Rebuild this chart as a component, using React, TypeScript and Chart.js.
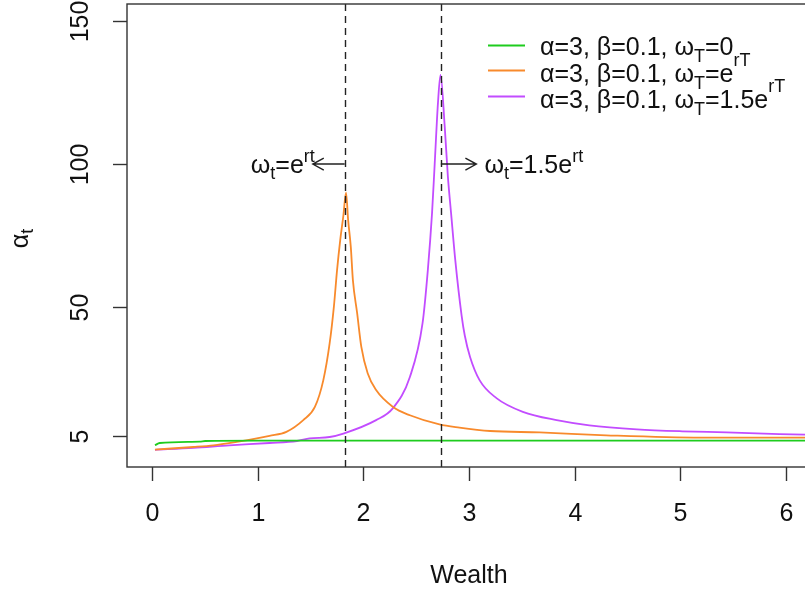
import React, { useEffect, useRef } from 'react';
import { Chart, registerables } from 'chart.js';

Chart.register(...registerables);

// ---- data ----
const greenX = [0.025, 0.07, 0.45, 0.5, 1.0, 2.0, 3.0, 4.0, 5.0, 6.0, 6.3];
const greenY = [1.6, 2.4, 2.9, 3.1, 3.2, 3.2, 3.2, 3.2, 3.2, 3.2, 3.2];

const orangeX = [0.025, 0.39, 0.58, 0.8, 0.99, 1.11, 1.27, 1.43, 1.54, 1.62, 1.68, 1.72, 1.75, 1.78, 1.81, 1.835, 1.855, 1.88, 1.9, 1.94, 1.98, 2.04, 2.12, 2.28, 2.44, 2.72, 2.91, 3.2, 3.67, 4.3, 5.2, 6.3];
const orangeY = [0.1, 1.0, 1.6, 2.8, 4.0, 4.9, 6.3, 10.4, 15.0, 24.4, 37.3, 50.1, 62.9, 73.4, 82.0, 90.0, 80.4, 71.1, 59.4, 47.9, 36.0, 26.8, 20.9, 15.0, 12.1, 8.9, 7.8, 6.6, 6.1, 5.1, 4.3, 4.3];

const purpleX = [0.025, 0.39, 0.73, 1.11, 1.37, 1.49, 1.68, 1.81, 2.12, 2.28, 2.44, 2.56, 2.61, 2.65, 2.675, 2.706, 2.73, 2.77, 2.8, 2.83, 2.87, 2.93, 2.96, 3.01, 3.1, 3.26, 3.51, 3.83, 4.14, 4.59, 5.02, 5.44, 5.94, 6.3];
const purpleY = [0.0, 0.7, 1.6, 2.4, 3.1, 4.0, 4.5, 5.7, 10.4, 14.6, 25.5, 44.3, 62.9, 82.9, 100.0, 121.4, 131.2, 113.1, 95.6, 82.9, 66.4, 47.0, 40.0, 32.5, 24.4, 18.1, 13.3, 10.4, 8.6, 7.2, 6.5, 6.1, 5.5, 5.3];

const xTicks = [0, 1, 2, 3, 4, 5, 6];
const yTicks = [5, 50, 100, 150];
const xRange = [-0.24, 6.24];
const yRange = [-6, 156];

const critLeft = 1.8221; // e^{rt}
const critRight = 2.7332; // 1.5 e^{rt}
const arrowLevel = 100;
const arrowLeftEnd = 1.52;
const arrowRightEnd = 3.07;

const seriesColors = ['#1ecc1e', '#f88a2c', '#c24cff'];

const FONT = '"Liberation Sans", Arial, sans-serif';
const FS = 25;

type Part = { t: string; k?: 'sub' | 'sup'; dy?: number };

function partFont(p: Part) {
  const s = p.k ? Math.round(FS * 0.7) : FS;
  return `${s}px ${FONT}`;
}

function richWidth(ctx: CanvasRenderingContext2D, parts: Part[]) {
  let w = 0;
  for (const p of parts) {
    ctx.font = partFont(p);
    w += ctx.measureText(p.t).width;
  }
  return w;
}

function drawRich(ctx: CanvasRenderingContext2D, parts: Part[], x: number, base: number, align: 'left' | 'right' | 'center') {
  const w = richWidth(ctx, parts);
  let cx = align === 'left' ? x : align === 'right' ? x - w : x - w / 2;
  ctx.textAlign = 'left';
  ctx.textBaseline = 'alphabetic';
  for (const p of parts) {
    ctx.font = partFont(p);
    let dy = 0;
    if (p.k === 'sub') dy = p.dy ?? 7;
    if (p.k === 'sup') dy = p.dy ?? -12;
    ctx.fillText(p.t, cx, base + dy);
    cx += ctx.measureText(p.t).width;
  }
}

function arrow(ctx: CanvasRenderingContext2D, x0: number, y0: number, x1: number, y1: number) {
  ctx.beginPath();
  ctx.moveTo(x0, y0);
  ctx.lineTo(x1, y1);
  const dir = Math.sign(x1 - x0);
  ctx.moveTo(x1 - dir * 11, y1 - 6);
  ctx.lineTo(x1, y1);
  ctx.lineTo(x1 - dir * 11, y1 + 6);
  ctx.stroke();
}

const decorPlugin = {
  id: 'decor',
  afterDatasetsDraw(chart: any) {
    const ctx: CanvasRenderingContext2D = chart.ctx;
    const { left, right, top, bottom } = chart.chartArea;
    const xs = chart.scales.x;
    const ys = chart.scales.y;
    ctx.save();
    ctx.fillStyle = '#111';
    ctx.strokeStyle = '#333';
    ctx.lineWidth = 1.4;

    // dashed critical lines
    ctx.save();
    ctx.setLineDash([7, 5]);
    ctx.strokeStyle = '#222';
    for (const v of [critLeft, critRight]) {
      const px = Math.round(xs.getPixelForValue(v)) + 0.5;
      ctx.beginPath();
      ctx.moveTo(px, top);
      ctx.lineTo(px, bottom);
      ctx.stroke();
    }
    ctx.restore();

    // box
    ctx.strokeRect(left, top, right - left, bottom - top);

    // x ticks + labels
    ctx.font = `${FS}px ${FONT}`;
    ctx.textAlign = 'center';
    ctx.textBaseline = 'middle';
    for (const v of xTicks) {
      const px = Math.round(xs.getPixelForValue(v)) + 0.5;
      ctx.beginPath();
      ctx.moveTo(px, bottom);
      ctx.lineTo(px, bottom + 14);
      ctx.stroke();
      ctx.fillText(String(v), px, 514);
    }
    // y ticks + labels (rotated)
    for (const v of yTicks) {
      const py = Math.round(ys.getPixelForValue(v)) + 0.5;
      ctx.beginPath();
      ctx.moveTo(left, py);
      ctx.lineTo(left - 14, py);
      ctx.stroke();
      ctx.save();
      ctx.translate(81, py);
      ctx.rotate(-Math.PI / 2);
      ctx.textAlign = 'center';
      ctx.textBaseline = 'middle';
      ctx.font = `${FS}px ${FONT}`;
      ctx.fillText(String(v), 0, 0);
      ctx.restore();
    }

    // axis titles
    ctx.font = `${FS}px ${FONT}`;
    ctx.textAlign = 'center';
    ctx.textBaseline = 'middle';
    ctx.fillText('Wealth', (left + right) / 2, 576);
    ctx.save();
    ctx.translate(28, (top + bottom) / 2 + 3);
    ctx.rotate(-Math.PI / 2);
    drawRich(ctx, [{ t: 'α' }, { t: 't', k: 'sub', dy: 5 }], 0, 0, 'center');
    ctx.restore();

    // arrows + annotations
    ctx.strokeStyle = '#222';
    const ay = ys.getPixelForValue(arrowLevel);
    arrow(ctx, xs.getPixelForValue(critLeft), ay, xs.getPixelForValue(arrowLeftEnd), ay);
    arrow(ctx, xs.getPixelForValue(critRight), ay, xs.getPixelForValue(arrowRightEnd), ay);
    drawRich(ctx, [{ t: 'ω' }, { t: 't', k: 'sub', dy: 6 }, { t: '=e' }, { t: 'rt', k: 'sup', dy: -11 }], xs.getPixelForValue(arrowLeftEnd) + 2, ay + 9, 'right');
    drawRich(ctx, [{ t: 'ω' }, { t: 't', k: 'sub', dy: 6 }, { t: '=1.5e' }, { t: 'rt', k: 'sup', dy: -11 }], xs.getPixelForValue(arrowRightEnd) + 8, ay + 9, 'left');

    // legend
    const legendRows: Part[][] = [
      [{ t: 'α=3, β=0.1, ω' }, { t: 'T', k: 'sub' }, { t: '=0' }],
      [{ t: 'α=3, β=0.1, ω' }, { t: 'T', k: 'sub' }, { t: '=e' }, { t: 'rT', k: 'sup', dy: -16 }],
      [{ t: 'α=3, β=0.1, ω' }, { t: 'T', k: 'sub' }, { t: '=1.5e' }, { t: 'rT', k: 'sup', dy: -16 }],
    ];
    const lineYs = [45, 70, 96];
    const baseYs = [55, 82, 108];
    for (let i = 0; i < 3; i++) {
      ctx.strokeStyle = seriesColors[i];
      ctx.lineWidth = 1.8;
      ctx.beginPath();
      ctx.moveTo(488, lineYs[i] + 0.5);
      ctx.lineTo(525, lineYs[i] + 0.5);
      ctx.stroke();
      ctx.fillStyle = '#111';
      drawRich(ctx, legendRows[i], 540, baseYs[i], 'left');
    }
    ctx.restore();
  },
};

function toPoints(xs: number[], ys: number[]) {
  return xs.map((x, i) => ({ x, y: ys[i] }));
}

export default function App() {
  const ref = useRef<HTMLCanvasElement | null>(null);
  useEffect(() => {
    if (!ref.current) return;
    const chart = new Chart(ref.current, {
      type: 'line',
      data: {
        datasets: [
          { label: 'g', data: toPoints(greenX, greenY), borderColor: seriesColors[0] },
          { label: 'o', data: toPoints(orangeX, orangeY), borderColor: seriesColors[1] },
          { label: 'p', data: toPoints(purpleX, purpleY), borderColor: seriesColors[2] },
        ].map((d) => ({ ...d, borderWidth: 1.8, pointRadius: 0, cubicInterpolationMode: 'monotone' as const, fill: false })),
      },
      options: {
        animation: false,
        responsive: true,
        maintainAspectRatio: false,
        layout: { padding: { left: 127, top: 4, right: 1, bottom: 125 } },
        plugins: { legend: { display: false }, tooltip: { enabled: false } },
        scales: {
          x: { type: 'linear', min: xRange[0], max: xRange[1], display: false },
          y: { type: 'linear', min: yRange[0], max: yRange[1], display: false },
        },
      },
      plugins: [decorPlugin],
    });
    return () => chart.destroy();
  }, []);
  return (
    <div style={{ position: 'absolute', left: 0, top: 0, width: 805, height: 592, overflow: 'hidden', background: '#fff' }}>
      <div style={{ position: 'relative', width: 812, height: 592 }}>
        <canvas ref={ref} />
      </div>
    </div>
  );
}
